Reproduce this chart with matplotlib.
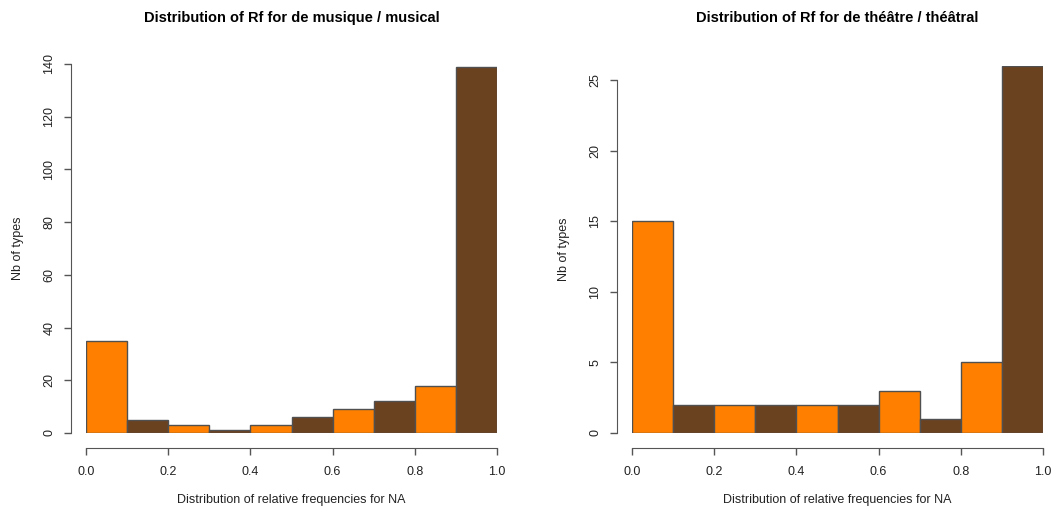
import numpy as np
import matplotlib
matplotlib.use("Agg")
from matplotlib import pyplot as plt

plt.rcParams['font.family'] = ['Liberation Sans', 'DejaVu Sans']

bin_edges = [0.0, 0.1, 0.2, 0.3, 0.4, 0.5, 0.6, 0.7, 0.8, 0.9, 1.0]
musique_counts = [35, 5, 3, 1, 3, 6, 9, 12, 18, 139]
theatre_counts = [15, 2, 2, 2, 2, 2, 3, 1, 5, 26]
x_ticks = [0.0, 0.2, 0.4, 0.6, 0.8, 1.0]
x_ticklabels = ["0.0", "0.2", "0.4", "0.6", "0.8", "1.0"]
musique_yticks = [0, 20, 40, 60, 80, 100, 120, 140]
theatre_yticks = [0, 5, 10, 15, 20, 25]

orange = "#ff8000"
brown = "#6b4220"
axis_col = "#555555"
text_col = "#222222"

fig = plt.figure(figsize=(10.51, 5.08), dpi=100)

def draw(ax, counts, yticks, ytop, title):
    colors = [orange if i % 2 == 0 else brown for i in range(len(counts))]
    lefts = bin_edges[:-1]
    widths = np.diff(bin_edges)
    ax.bar(lefts, counts, width=widths, align="edge", color=colors,
           edgecolor="#505050", linewidth=1.0)
    ax.set_xlim(0, 1)
    ax.set_ylim(0, ytop)
    for s in ["top", "right"]:
        ax.spines[s].set_visible(False)
    for s in ["left", "bottom"]:
        ax.spines[s].set_position(("outward", 11))
        ax.spines[s].set_color(axis_col)
    ax.spines["bottom"].set_bounds(0, 1)
    ax.spines["left"].set_bounds(yticks[0], yticks[-1])
    ax.set_xticks(x_ticks)
    ax.set_xticklabels(x_ticklabels)
    ax.set_yticks(yticks)
    ax.set_yticklabels([str(v) for v in yticks], rotation=90, va="center")
    ax.tick_params(axis="both", colors=axis_col, labelcolor=text_col,
                   labelsize=9, length=5, width=1)
    ax.tick_params(axis="x", pad=8)
    ax.tick_params(axis="y", pad=6)
    ax.set_xlabel("Distribution of relative frequencies for NA", fontsize=9,
                  color=text_col, labelpad=11)
    ax.set_ylabel("Nb of types", fontsize=9, color=text_col, labelpad=14)
    pos = ax.get_position()
    fig.text(pos.x0 + pos.width / 2, 1 - 18 / 508, title, fontsize=10.5,
             fontweight="bold", ha="center", va="center", color="black")

ax1 = fig.add_axes([86 / 1051, 1 - 433 / 508, 411 / 1051, 369 / 508])
draw(ax1, musique_counts, musique_yticks, 140,
     "Distribution of Rf for de musique / musical")

ax2 = fig.add_axes([632 / 1051, 1 - 433 / 508, 411 / 1051, 367 / 508])
draw(ax2, theatre_counts, theatre_yticks, 26,
     "Distribution of Rf for de théâtre / théâtral")

fig.savefig("out.png", dpi=100)
